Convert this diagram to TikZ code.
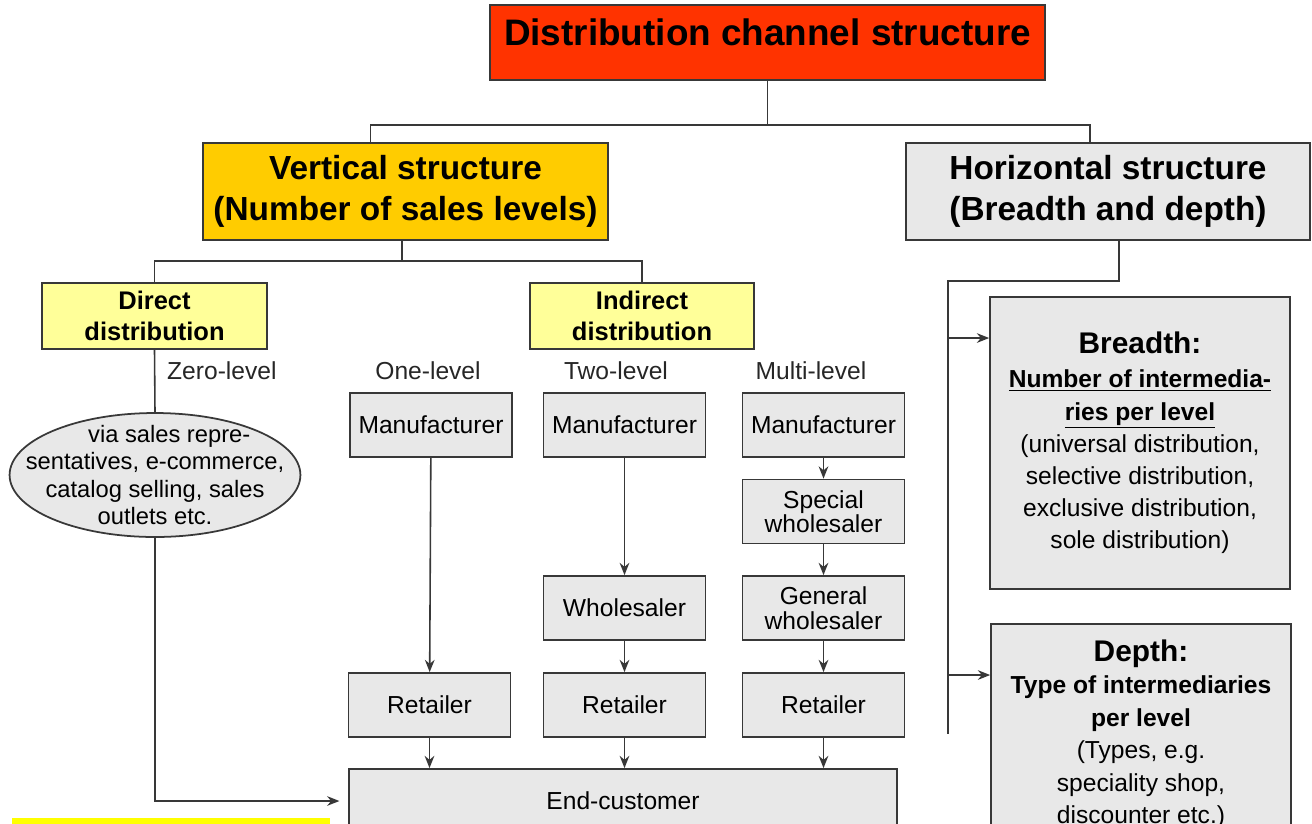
\documentclass[tikz,border=0pt]{standalone}
\usepackage{fontspec}
\setmainfont{Liberation Sans}
\usetikzlibrary{shapes.geometric,arrows.meta}
\definecolor{titlered}{HTML}{FF3300}
\definecolor{headgold}{HTML}{FFCC00}
\definecolor{kindyellow}{HTML}{FFFF99}
\definecolor{boxgray}{HTML}{E8E8E8}
\definecolor{boxline}{HTML}{383838}
\definecolor{baryellow}{HTML}{FFFF00}
\begin{document}
\begin{tikzpicture}
    [
        x=0.02cm, y=-0.02cm,
        headbox/.style={rectangle, draw=boxline, line width=1pt, align=center,
            minimum width=8.1cm, minimum height=1.94cm, font=\bfseries\fontsize{19}{23}\selectfont},
        kindbox/.style={rectangle, draw=boxline, line width=1pt, fill=kindyellow, align=center,
            minimum width=4.5cm, minimum height=1.32cm, inner sep=1pt, font=\bfseries\fontsize{14.5}{17.6}\selectfont},
        levelbox/.style={rectangle, draw=boxline, line width=1pt, fill=boxgray, align=center,
            minimum width=3.24cm, minimum height=1.28cm, inner sep=1pt, font=\fontsize{14}{14}\selectfont},
        infobox/.style={rectangle, draw=boxline, line width=1pt, fill=boxgray, align=center,
            minimum width=6cm, inner sep=1pt},
        levellabel/.style={font=\fontsize{14}{14}\selectfont, text=black!85},
        tree/.style={draw=boxline, line width=0.9pt},
        flow/.style={tree, -{Stealth[length=7pt,width=5.5pt]}},
    ]
    \useasboundingbox (0,0) rectangle (1312,823);
    \clip (0,0) rectangle (1312,823);

    % top of the tree
    \node (title) at (767.5,42.5) [rectangle, draw=boxline, line width=1pt, fill=titlered,
        minimum width=11.1cm, minimum height=1.5cm, text depth=12pt,
        font=\bfseries\fontsize{21}{24}\selectfont] {Distribution channel structure};
    \node (vert) at (405.5,191.5) [headbox, fill=headgold] {Vertical structure\\(Number of sales levels)};
    \node (horiz) at (1108,191.5) [headbox, fill=boxgray, minimum width=8.08cm] {Horizontal structure\\(Breadth and depth)};
    \draw [tree] (title.south) -- ++(0,44) -| ([xshift=-0.36cm]horiz.north);
    \draw [tree] (title.south) -- ++(0,44) -| ([xshift=-0.7cm]vert.north);

    % vertical structure
    \node (direct) at (154.5,316) [kindbox] {Direct\\distribution};
    \node (indirect) at (642,316) [kindbox, minimum width=4.48cm] {Indirect\\distribution};
    \draw [tree] ([xshift=-0.07cm]vert.south) -- ++(0,20) -| (direct.north);
    \draw [tree] ([xshift=-0.07cm]vert.south) -- ++(0,20) -| (indirect.north);

    \node (zero) at (161,371) [levellabel, anchor=west] {Zero-level};
    \node (one) at (428,371) [levellabel] {One-level};
    \node (two) at (616,371) [levellabel] {Two-level};
    \node (multi) at (811,371) [levellabel] {Multi-level};

    \node (via) at (155,475) [ellipse, draw=boxline, line width=1pt, fill=boxgray, align=center,
        minimum width=5.76cm, minimum height=2.48cm, inner xsep=-15pt, inner ysep=-6pt,
        font=\fontsize{13.5}{15.6}\selectfont]
        {\hspace*{1.2em}via sales repre-\\sentatives, e-commerce,\\catalog selling, sales\\outlets etc.};

    \node (m1) at (431,425) [levelbox] {Manufacturer};
    \node (m2) at (624.5,425) [levelbox] {Manufacturer};
    \node (m3) at (823.5,425) [levelbox] {Manufacturer};
    \node (s3) at (823.5,511.5) [levelbox] {Special\\wholesaler};
    \node (w2) at (624.5,608) [levelbox] {Wholesaler};
    \node (g3) at (823.5,608) [levelbox] {General\\wholesaler};
    \node (r1) at (429.5,705) [levelbox] {Retailer};
    \node (r2) at (624.5,705) [levelbox] {Retailer};
    \node (r3) at (823.5,705) [levelbox] {Retailer};
    \node (endc) at (623,801) [levelbox, minimum width=10.96cm] {End-customer};

    \draw [tree] (direct.south) -- (via.north);
    \draw [flow, shorten >=5pt] (via.south) |- (endc.west);
    \draw [flow] (m1) -- (r1);
    \draw [flow] (m2) -- (w2);
    \draw [flow] (w2) -- (r2);
    \draw [flow] (m3) -- (s3);
    \draw [flow] (s3) -- (g3);
    \draw [flow] (g3) -- (r3);
    \draw [flow] (r1) -- (r1 |- endc.north);
    \draw [flow] (r2) -- (r2 |- endc.north);
    \draw [flow] (r3) -- (r3 |- endc.north);

    % horizontal structure
    \node (breadth) at (1140,443) [infobox, minimum height=5.84cm, font=\fontsize{14}{18.3}\selectfont]
        {{\bfseries\fontsize{17}{20}\selectfont Breadth:}\\[1pt]
         \textbf{\underline{Number of intermedia-}}\\
         \textbf{\underline{ries per level}}\\
         (universal distribution,\\selective distribution,\\exclusive distribution,\\sole distribution)};
    \node (depth) at (1141,734) [infobox, minimum height=4.4cm, font=\fontsize{14}{18.5}\selectfont]
        {{\bfseries\fontsize{17}{20}\selectfont Depth:}\\
         \textbf{Type of intermediaries}\\
         \textbf{per level}\\
         (Types, e.g.\\speciality shop,\\discounter etc.)};
    \coordinate (trunk) at (948,281);
    \draw [tree] ([xshift=0.22cm]horiz.south) |- (trunk) -- (trunk |- depth.west);
    \draw [flow] (trunk) |- ([yshift=2.1cm]breadth.west);
    \draw [flow] (trunk) |- ([yshift=1.18cm]depth.west);

    % bottom edge
    \fill [baryellow] (12,818) rectangle (330,830);
\end{tikzpicture}
\end{document}
